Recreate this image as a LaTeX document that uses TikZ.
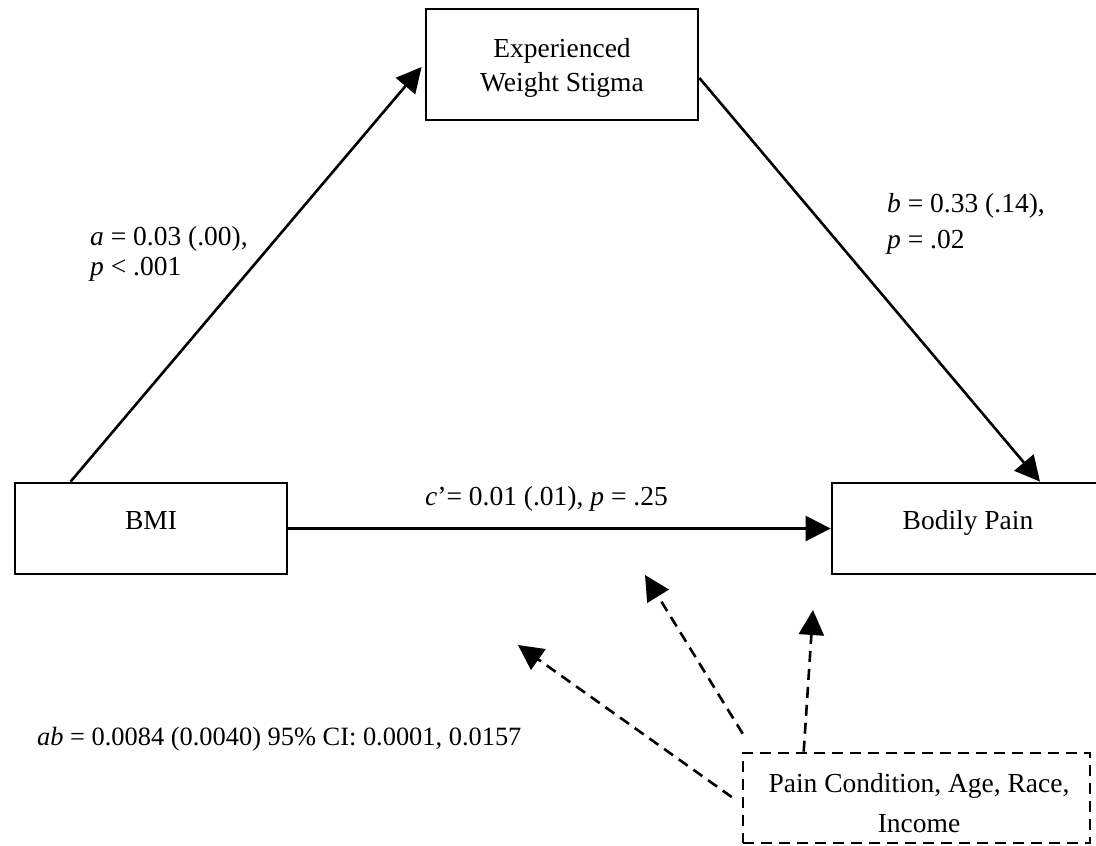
\documentclass[tikz,border=0pt]{standalone}
\usepackage{fontspec}
\setmainfont{Liberation Serif}
\usetikzlibrary{arrows.meta,calc}
\begin{document}
\begin{tikzpicture}[x=1bp,y=-1bp,
  box/.style={draw, line width=2.8bp, minimum width=272bp, inner sep=0pt},
  dbox/.style={draw, line width=2.6bp, dash pattern=on 11bp off 7bp, inner sep=0pt},
  txt/.style={font=\fontsize{27.5bp}{34bp}\selectfont, inner sep=0pt, anchor=base},
  ltxt/.style={txt, anchor=base west},
  arr/.style={line width=2.6bp, -{Triangle[length=25bp,width=25bp]}},
  darr/.style={arr, dash pattern=on 11bp off 7bp}]
\useasboundingbox (0,0) rectangle (1096,846);
% boxes
\node[box, minimum height=111bp] (ews) at (562,64.5) {};
\node[box, minimum height=91bp] (bmi) at (151,528.5) {};
\node[box, minimum height=91bp] (bp) at (968,528.5) {};
\node[dbox, minimum width=347bp, minimum height=90bp] (cov) at (916.5,798) {};
% box texts
\node[txt] (ews1) at (562,57) {Experienced};
\node[txt] (ews2) at (562,91) {Weight Stigma};
\node[txt] (bmit) at (151,529) {BMI};
\node[txt] (bpt) at (968,529) {Bodily Pain};
\node[txt] (cov1) at (919,792) {Pain Condition, Age, Race,};
\node[txt] (cov2) at (919,832) {Income};
% path labels
\node[ltxt] (la1) at (90,245) {\textit{a} = 0.03 (.00),};
\node[ltxt] (la2) at (90,275) {\textit{p} < .001};
\node[ltxt] (lb1) at (887,212) {\textit{b} = 0.33 (.14),};
\node[ltxt] (lb2) at (887,248) {\textit{p} = .02};
\node[ltxt] (lc) at (425,505) {\textit{c}’= 0.01 (.01), \textit{p} = .25};
\node[ltxt, font=\fontsize{26.4bp}{32bp}\selectfont] (lab) at (37,745) {\textit{ab} = 0.0084 (0.0040) 95\% CI: 0.0001, 0.0157};
% connectors
\draw[arr] ($(bmi.north west)+(57,0)$) -- ($(ews.west)+(-3,2.5)$);
\draw[arr] ($(ews.east)+(0,13.5)$) -- ($(bp.north)+(72,0)$);
\draw[arr] (bmi.east) -- (bp.west);
\coordinate (t1) at (518,645);
\coordinate (t2) at (645,575);
\coordinate (t3) at (813,610);
\draw[darr] ($(cov.west)+(-10,-1)$) -- (t1);
\draw[darr] ($(cov.north west)+(1,-18)$) -- (t2);
\draw[darr] ($(cov.north west)+(62,0)$) -- (t3);
\end{tikzpicture}
\end{document}
